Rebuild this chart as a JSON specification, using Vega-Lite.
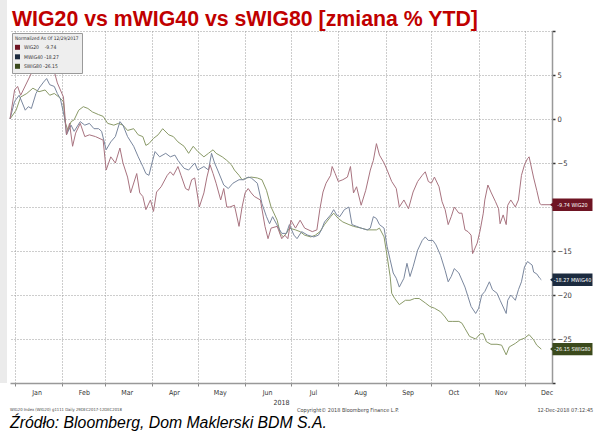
{
  "$schema": "https://vega.github.io/schema/vega-lite/v6.json",
  "width": 542,
  "height": 352,
  "autosize": {"type": "none"},
  "padding": {"left": 10, "top": 31, "right": 44, "bottom": 49},
  "background": "white",
  "view": {"stroke": null},
  "config": {"font": "Liberation Sans Narrow, DejaVu Sans Condensed, sans-serif"},
  "datasets": {
    "wig20": [
      {"d":"2017-12-29","v":0},{"d":"2018-01-01","v":3.3},{"d":"2018-01-03","v":3.7},{"d":"2018-01-05","v":2.7},{"d":"2018-01-12","v":5.2},{"d":"2018-01-14","v":5.4},{"d":"2018-01-18","v":5.9},{"d":"2018-01-20","v":6.5},{"d":"2018-01-22","v":6.3},{"d":"2018-01-24","v":5.8},{"d":"2018-01-27","v":5.4},{"d":"2018-01-29","v":4.1},
      {"d":"2018-02-02","v":2.5},{"d":"2018-02-04","v":-1.8},{"d":"2018-02-06","v":-0.5},{"d":"2018-02-08","v":-3.1},{"d":"2018-02-10","v":-1.6},{"d":"2018-02-13","v":-0.5},{"d":"2018-02-16","v":-2.0},{"d":"2018-02-19","v":-1.8},{"d":"2018-02-23","v":-2.0},{"d":"2018-02-28","v":-2.4},
      {"d":"2018-03-02","v":-5.8},{"d":"2018-03-05","v":-4.3},{"d":"2018-03-08","v":-5.0},{"d":"2018-03-11","v":-3.3},{"d":"2018-03-13","v":-5.0},{"d":"2018-03-16","v":-6.6},{"d":"2018-03-18","v":-8.4},{"d":"2018-03-22","v":-6.2},{"d":"2018-03-24","v":-8.4},{"d":"2018-03-26","v":-8.8},{"d":"2018-03-28","v":-10.3},{"d":"2018-03-31","v":-9.2},
      {"d":"2018-04-02","v":-10.5},{"d":"2018-04-04","v":-8.3},{"d":"2018-04-07","v":-7.7},{"d":"2018-04-11","v":-6.4},{"d":"2018-04-13","v":-6.0},{"d":"2018-04-15","v":-6.4},{"d":"2018-04-18","v":-5.4},{"d":"2018-04-20","v":-6.4},{"d":"2018-04-23","v":-7.9},{"d":"2018-04-25","v":-8.1},{"d":"2018-04-27","v":-6.9},{"d":"2018-04-29","v":-6.7},
      {"d":"2018-05-02","v":-10.0},{"d":"2018-05-05","v":-8.4},{"d":"2018-05-07","v":-6.6},{"d":"2018-05-09","v":-5.2},{"d":"2018-05-11","v":-6.2},{"d":"2018-05-13","v":-7.3},{"d":"2018-05-16","v":-9.2},{"d":"2018-05-18","v":-7.9},{"d":"2018-05-20","v":-10.0},{"d":"2018-05-22","v":-10.0},{"d":"2018-05-25","v":-9.8},{"d":"2018-05-28","v":-12.2},{"d":"2018-05-30","v":-10.0},
      {"d":"2018-06-01","v":-8.4},{"d":"2018-06-03","v":-7.9},{"d":"2018-06-05","v":-8.4},{"d":"2018-06-07","v":-8.8},{"d":"2018-06-11","v":-9.2},{"d":"2018-06-14","v":-12.2},{"d":"2018-06-16","v":-13.6},{"d":"2018-06-18","v":-12.4},{"d":"2018-06-22","v":-12.2},{"d":"2018-06-25","v":-13.6},{"d":"2018-06-27","v":-13.2},{"d":"2018-06-29","v":-13.6},
      {"d":"2018-07-01","v":-11.5},{"d":"2018-07-04","v":-12.4},{"d":"2018-07-07","v":-11.5},{"d":"2018-07-10","v":-12.4},{"d":"2018-07-15","v":-12.8},{"d":"2018-07-18","v":-12.6},{"d":"2018-07-20","v":-10.2},{"d":"2018-07-22","v":-8.3},{"d":"2018-07-24","v":-7.3},{"d":"2018-07-27","v":-6.4},{"d":"2018-07-28","v":-5.4},{"d":"2018-07-30","v":-6.2},
      {"d":"2018-08-01","v":-7.1},{"d":"2018-08-04","v":-6.9},{"d":"2018-08-07","v":-6.6},{"d":"2018-08-09","v":-5.4},{"d":"2018-08-11","v":-8.4},{"d":"2018-08-13","v":-7.7},{"d":"2018-08-16","v":-9.8},{"d":"2018-08-19","v":-8.1},{"d":"2018-08-22","v":-5.8},{"d":"2018-08-24","v":-4.7},{"d":"2018-08-26","v":-2.8},{"d":"2018-08-28","v":-4.1},{"d":"2018-08-31","v":-5.0},
      {"d":"2018-09-02","v":-5.8},{"d":"2018-09-05","v":-7.1},{"d":"2018-09-08","v":-7.9},{"d":"2018-09-10","v":-10.0},{"d":"2018-09-13","v":-9.2},{"d":"2018-09-16","v":-10.2},{"d":"2018-09-19","v":-8.3},{"d":"2018-09-22","v":-7.1},{"d":"2018-09-25","v":-6.4},{"d":"2018-09-27","v":-6.0},{"d":"2018-09-29","v":-7.1},
      {"d":"2018-10-01","v":-7.3},{"d":"2018-10-03","v":-6.6},{"d":"2018-10-06","v":-7.7},{"d":"2018-10-08","v":-9.4},{"d":"2018-10-10","v":-10.3},{"d":"2018-10-12","v":-12.0},{"d":"2018-10-14","v":-11.1},{"d":"2018-10-16","v":-10.0},{"d":"2018-10-19","v":-10.7},{"d":"2018-10-21","v":-10.7},{"d":"2018-10-23","v":-12.6},{"d":"2018-10-25","v":-12.8},{"d":"2018-10-27","v":-13.2},{"d":"2018-10-28","v":-15.3},{"d":"2018-10-31","v":-14.1},
      {"d":"2018-11-02","v":-12.6},{"d":"2018-11-04","v":-10.7},{"d":"2018-11-05","v":-9.2},{"d":"2018-11-07","v":-7.5},{"d":"2018-11-09","v":-8.3},{"d":"2018-11-12","v":-9.4},{"d":"2018-11-14","v":-10.2},{"d":"2018-11-15","v":-11.9},{"d":"2018-11-17","v":-10.9},{"d":"2018-11-19","v":-12.0},{"d":"2018-11-20","v":-9.8},{"d":"2018-11-22","v":-9.2},{"d":"2018-11-25","v":-10.0},{"d":"2018-11-27","v":-9.2},{"d":"2018-11-29","v":-6.4},
      {"d":"2018-12-01","v":-5.2},{"d":"2018-12-03","v":-4.5},{"d":"2018-12-04","v":-4.3},{"d":"2018-12-07","v":-6.7},{"d":"2018-12-09","v":-8.1},{"d":"2018-12-11","v":-9.6},{"d":"2018-12-12","v":-9.74},{"d":"2018-12-19","v":-9.74}
    ],
    "mwig40": [
      {"d":"2017-12-29","v":0},{"d":"2018-01-01","v":2.0},{"d":"2018-01-04","v":2.7},{"d":"2018-01-08","v":1.0},{"d":"2018-01-10","v":1.4},{"d":"2018-01-12","v":1.2},{"d":"2018-01-15","v":2.9},{"d":"2018-01-17","v":3.5},{"d":"2018-01-20","v":4.2},{"d":"2018-01-22","v":4.6},{"d":"2018-01-24","v":3.9},{"d":"2018-01-27","v":3.7},{"d":"2018-01-29","v":2.9},{"d":"2018-01-31","v":2.3},
      {"d":"2018-02-03","v":-0.1},{"d":"2018-02-04","v":-1.8},{"d":"2018-02-07","v":-0.7},{"d":"2018-02-09","v":-1.4},{"d":"2018-02-13","v":-0.3},{"d":"2018-02-16","v":-0.7},{"d":"2018-02-19","v":-0.5},{"d":"2018-02-22","v":-1.1},{"d":"2018-02-25","v":-1.1},{"d":"2018-02-27","v":-1.4},
      {"d":"2018-03-02","v":-3.5},{"d":"2018-03-05","v":-2.6},{"d":"2018-03-08","v":-2.0},{"d":"2018-03-11","v":-0.3},{"d":"2018-03-13","v":-0.7},{"d":"2018-03-16","v":-2.0},{"d":"2018-03-20","v":-3.1},{"d":"2018-03-23","v":-4.3},{"d":"2018-03-26","v":-5.4},{"d":"2018-03-28","v":-6.2},{"d":"2018-03-30","v":-6.4},
      {"d":"2018-04-01","v":-5.0},{"d":"2018-04-03","v":-3.7},{"d":"2018-04-06","v":-4.3},{"d":"2018-04-10","v":-3.9},{"d":"2018-04-13","v":-4.3},{"d":"2018-04-16","v":-4.1},{"d":"2018-04-18","v":-4.7},{"d":"2018-04-22","v":-5.6},{"d":"2018-04-25","v":-5.8},{"d":"2018-04-29","v":-5.0},
      {"d":"2018-05-01","v":-5.8},{"d":"2018-05-05","v":-5.4},{"d":"2018-05-08","v":-5.8},{"d":"2018-05-10","v":-3.9},{"d":"2018-05-12","v":-5.0},{"d":"2018-05-14","v":-5.8},{"d":"2018-05-18","v":-7.5},{"d":"2018-05-21","v":-7.9},{"d":"2018-05-24","v":-7.3},{"d":"2018-05-28","v":-6.9},{"d":"2018-05-31","v":-6.9},
      {"d":"2018-06-03","v":-6.6},{"d":"2018-06-05","v":-6.7},{"d":"2018-06-09","v":-7.3},{"d":"2018-06-12","v":-9.6},{"d":"2018-06-15","v":-11.1},{"d":"2018-06-17","v":-11.9},{"d":"2018-06-19","v":-11.1},{"d":"2018-06-23","v":-12.4},{"d":"2018-06-25","v":-13.0},{"d":"2018-06-28","v":-13.0},{"d":"2018-06-30","v":-12.0},
      {"d":"2018-07-03","v":-13.2},{"d":"2018-07-05","v":-13.6},{"d":"2018-07-08","v":-12.8},{"d":"2018-07-12","v":-13.2},{"d":"2018-07-16","v":-13.4},{"d":"2018-07-19","v":-13.2},{"d":"2018-07-21","v":-12.6},{"d":"2018-07-23","v":-11.7},{"d":"2018-07-27","v":-10.9},{"d":"2018-07-29","v":-10.3},{"d":"2018-07-31","v":-10.9},
      {"d":"2018-08-02","v":-11.1},{"d":"2018-08-05","v":-10.3},{"d":"2018-08-08","v":-10.0},{"d":"2018-08-10","v":-12.0},{"d":"2018-08-13","v":-12.2},{"d":"2018-08-16","v":-12.4},{"d":"2018-08-20","v":-12.6},{"d":"2018-08-22","v":-12.4},{"d":"2018-08-24","v":-11.1},{"d":"2018-08-26","v":-11.3},{"d":"2018-08-28","v":-12.0},{"d":"2018-08-31","v":-12.4},
      {"d":"2018-09-02","v":-14.5},{"d":"2018-09-04","v":-16.0},{"d":"2018-09-06","v":-17.5},{"d":"2018-09-08","v":-18.1},{"d":"2018-09-10","v":-19.1},{"d":"2018-09-13","v":-18.1},{"d":"2018-09-15","v":-16.4},{"d":"2018-09-17","v":-17.9},{"d":"2018-09-19","v":-16.8},{"d":"2018-09-22","v":-14.9},{"d":"2018-09-25","v":-13.8},{"d":"2018-09-27","v":-13.4},{"d":"2018-09-29","v":-13.8},
      {"d":"2018-10-02","v":-13.8},{"d":"2018-10-04","v":-14.3},{"d":"2018-10-07","v":-15.5},{"d":"2018-10-10","v":-17.2},{"d":"2018-10-12","v":-18.5},{"d":"2018-10-14","v":-17.9},{"d":"2018-10-16","v":-17.0},{"d":"2018-10-19","v":-17.5},{"d":"2018-10-21","v":-18.3},{"d":"2018-10-23","v":-19.1},{"d":"2018-10-25","v":-20.2},{"d":"2018-10-27","v":-21.3},{"d":"2018-10-30","v":-22.1},
      {"d":"2018-11-01","v":-21.5},{"d":"2018-11-03","v":-20.0},{"d":"2018-11-05","v":-19.6},{"d":"2018-11-08","v":-18.5},{"d":"2018-11-10","v":-19.4},{"d":"2018-11-13","v":-19.8},{"d":"2018-11-15","v":-20.6},{"d":"2018-11-19","v":-22.1},{"d":"2018-11-20","v":-20.6},{"d":"2018-11-22","v":-20.0},{"d":"2018-11-25","v":-20.6},{"d":"2018-11-27","v":-19.4},{"d":"2018-11-29","v":-18.5},
      {"d":"2018-12-01","v":-16.8},{"d":"2018-12-03","v":-16.2},{"d":"2018-12-06","v":-16.6},{"d":"2018-12-07","v":-17.4},{"d":"2018-12-09","v":-17.6},{"d":"2018-12-11","v":-18.1},{"d":"2018-12-12","v":-18.27}
    ],
    "swig80": [
      {"d":"2017-12-29","v":0},{"d":"2018-01-02","v":1.0},{"d":"2018-01-05","v":2.5},{"d":"2018-01-09","v":2.9},{"d":"2018-01-13","v":3.5},{"d":"2018-01-17","v":3.1},{"d":"2018-01-21","v":3.3},{"d":"2018-01-24","v":2.7},{"d":"2018-01-27","v":2.9},{"d":"2018-01-30","v":2.5},
      {"d":"2018-02-02","v":2.0},{"d":"2018-02-03","v":-0.3},{"d":"2018-02-05","v":-1.3},{"d":"2018-02-07","v":-0.3},{"d":"2018-02-09","v":-0.1},{"d":"2018-02-12","v":1.0},{"d":"2018-02-15","v":1.4},{"d":"2018-02-18","v":1.2},{"d":"2018-02-21","v":0.8},{"d":"2018-02-25","v":0.5},{"d":"2018-02-28","v":0.3},
      {"d":"2018-03-03","v":-0.5},{"d":"2018-03-07","v":-0.7},{"d":"2018-03-10","v":-0.5},{"d":"2018-03-13","v":-0.7},{"d":"2018-03-16","v":-1.3},{"d":"2018-03-20","v":-1.1},{"d":"2018-03-23","v":-1.8},{"d":"2018-03-26","v":-2.0},{"d":"2018-03-28","v":-3.0},{"d":"2018-03-30","v":-2.8},
      {"d":"2018-04-02","v":-2.2},{"d":"2018-04-05","v":-1.8},{"d":"2018-04-08","v":-1.1},{"d":"2018-04-12","v":-1.8},{"d":"2018-04-15","v":-2.0},{"d":"2018-04-18","v":-2.6},{"d":"2018-04-22","v":-3.1},{"d":"2018-04-25","v":-3.9},{"d":"2018-04-28","v":-3.1},
      {"d":"2018-05-01","v":-3.7},{"d":"2018-05-05","v":-4.3},{"d":"2018-05-08","v":-3.9},{"d":"2018-05-11","v":-3.5},{"d":"2018-05-13","v":-3.9},{"d":"2018-05-17","v":-4.3},{"d":"2018-05-20","v":-4.7},{"d":"2018-05-23","v":-5.2},{"d":"2018-05-25","v":-5.8},{"d":"2018-05-28","v":-6.4},{"d":"2018-05-30","v":-6.9},
      {"d":"2018-06-02","v":-6.7},{"d":"2018-06-05","v":-6.6},{"d":"2018-06-09","v":-6.7},{"d":"2018-06-12","v":-6.9},{"d":"2018-06-15","v":-8.1},{"d":"2018-06-18","v":-10.0},{"d":"2018-06-22","v":-11.5},{"d":"2018-06-24","v":-13.0},{"d":"2018-06-26","v":-13.4},{"d":"2018-06-28","v":-13.0},{"d":"2018-06-30","v":-12.4},
      {"d":"2018-07-04","v":-12.6},{"d":"2018-07-07","v":-12.8},{"d":"2018-07-10","v":-13.2},{"d":"2018-07-14","v":-13.4},{"d":"2018-07-17","v":-13.2},{"d":"2018-07-20","v":-12.8},{"d":"2018-07-23","v":-12.0},{"d":"2018-07-27","v":-11.1},{"d":"2018-07-29","v":-10.7},
      {"d":"2018-08-01","v":-11.3},{"d":"2018-08-04","v":-11.7},{"d":"2018-08-08","v":-12.0},{"d":"2018-08-11","v":-12.2},{"d":"2018-08-16","v":-12.4},{"d":"2018-08-20","v":-12.6},{"d":"2018-08-26","v":-12.6},{"d":"2018-08-28","v":-12.4},{"d":"2018-08-31","v":-13.4},
      {"d":"2018-09-02","v":-15.6},{"d":"2018-09-04","v":-17.9},{"d":"2018-09-05","v":-19.8},{"d":"2018-09-07","v":-20.4},{"d":"2018-09-10","v":-21.1},{"d":"2018-09-14","v":-20.6},{"d":"2018-09-17","v":-20.6},{"d":"2018-09-20","v":-20.4},{"d":"2018-09-23","v":-20.4},{"d":"2018-09-27","v":-20.9},{"d":"2018-09-30","v":-21.3},
      {"d":"2018-10-03","v":-21.5},{"d":"2018-10-07","v":-21.9},{"d":"2018-10-10","v":-22.5},{"d":"2018-10-12","v":-23.0},{"d":"2018-10-15","v":-23.0},{"d":"2018-10-19","v":-23.0},{"d":"2018-10-21","v":-23.2},{"d":"2018-10-23","v":-23.8},{"d":"2018-10-26","v":-24.7},{"d":"2018-10-30","v":-25.0},
      {"d":"2018-11-02","v":-24.4},{"d":"2018-11-04","v":-24.4},{"d":"2018-11-06","v":-25.3},{"d":"2018-11-09","v":-25.6},{"d":"2018-11-13","v":-25.6},{"d":"2018-11-16","v":-25.7},{"d":"2018-11-19","v":-26.8},{"d":"2018-11-21","v":-25.9},{"d":"2018-11-25","v":-25.5},{"d":"2018-11-28","v":-25.1},
      {"d":"2018-12-01","v":-24.9},{"d":"2018-12-04","v":-24.5},{"d":"2018-12-07","v":-25.1},{"d":"2018-12-09","v":-25.7},{"d":"2018-12-12","v":-26.15}
    ],
    "last": [
      {"s":"WIG20","v":-9.74,"lab":"-9.74 WIG20"},
      {"s":"MWIG40","v":-18.27,"lab":"-18.27 MWIG40"},
      {"s":"SWIG80","v":-26.15,"lab":"-26.15 SWIG80"}
    ]
  },
  "layer": [
    {
      "data": {"values": [{}]},
      "mark": {"type": "rect", "color": "#ebebeb", "clip": false},
      "encoding": {
        "x": {"datum": 1513939680000, "type": "temporal"},
        "x2": {"datum": 1514336256000},
        "y": {"datum": 13.6, "type": "quantitative"},
        "y2": {"datum": -30}
      }
    },
    {
      "data": {"name": "swig80"},
      "mark": {"type": "line", "color": "#8a9a68", "strokeWidth": 1},
      "encoding": {
        "x": {
          "field": "d", "type": "temporal",
          "scale": {"type": "utc", "domain": [1514505600000, 1545177600000]},
          "axis": {"title": "2018", "titleFontSize": 7, "titleFontWeight": "normal", "titleColor": "#333", "titlePadding": 3, "format": "%b", "tickCount": {"interval": "month", "step": 1}, "labelOffset": 22, "labelFontSize": 7, "labelColor": "#333", "labelPadding": 2, "tickSize": 3, "tickColor": "#888", "domainColor": "#999", "domainWidth": 1.5, "grid": true, "gridColor": "#9a9a9a", "gridDash": [1, 2], "labelOverlap": false, "labelFlush": false}
        },
        "y": {
          "field": "v", "type": "quantitative",
          "scale": {"domain": [-30, 10], "nice": false, "zero": false},
          "axis": {"orient": "right", "title": null, "values": [-30, -25, -20, -15, -10, -5, 0, 5, 10], "labelExpr": "datum.value == 10 || datum.value == -30 || datum.value == -10 ? '' : datum.label", "labelFontSize": 7.5, "labelColor": "#333", "labelAlign": "left", "labelPadding": 2, "tickSize": 3, "tickColor": "#333", "tickWidth": 1.5, "domainColor": "#999", "domainWidth": 1.5, "grid": true, "gridColor": "#9a9a9a", "gridDash": [1, 2]}
        }
      }
    },
    {
      "data": {"name": "mwig40"},
      "mark": {"type": "line", "color": "#7a879e", "strokeWidth": 1},
      "encoding": {"x": {"field": "d", "type": "temporal"}, "y": {"field": "v", "type": "quantitative"}}
    },
    {
      "data": {"name": "wig20"},
      "mark": {"type": "line", "color": "#a8737f", "strokeWidth": 1},
      "encoding": {"x": {"field": "d", "type": "temporal"}, "y": {"field": "v", "type": "quantitative"}}
    },
    {
      "data": {"name": "last"},
      "mark": {"type": "point", "filled": true, "opacity": 1, "size": 1600, "strokeWidth": 0, "clip": false, "shape": "M-1,-0.31H1V0.31H-1V0.1L-1.12,0L-1,-0.1Z"},
      "encoding": {
        "x": {"datum": 1546336800000, "type": "temporal"},
        "y": {"field": "v", "type": "quantitative"},
        "fill": {"field": "s", "type": "nominal", "scale": {"domain": ["WIG20", "MWIG40", "SWIG80"], "range": ["#6e1423", "#1c2b3f", "#3b4a1c"]},
          "legend": {"title": "Normalized As Of 12/29/2017", "orient": "top-left", "offset": 2, "padding": 3, "fillColor": "#eeeeee", "strokeColor": "#9a9a9a", "titleFontSize": 4.8, "titleFontWeight": "normal", "titleColor": "#333", "titlePadding": 4, "labelFontSize": 5, "labelColor": "#333", "symbolType": "square", "symbolSize": 25, "symbolStrokeWidth": 0, "rowPadding": 3.5,
            "labelExpr": "datum.value == 'WIG20' ? 'WIG20\u00a0\u00a0\u00a0\u00a0-9.74' : datum.value == 'MWIG40' ? 'MWIG40\u00a0-18.27' : 'SWIG80\u00a0-26.15'"}}
      }
    },
    {
      "data": {"name": "last"},
      "mark": {"type": "text", "color": "white", "font": "DejaVu Sans Condensed, sans-serif", "fontSize": 5.4, "align": "center", "baseline": "middle", "clip": false},
      "encoding": {
        "x": {"datum": 1546336800000, "type": "temporal"},
        "y": {"field": "v", "type": "quantitative"},
        "text": {"field": "lab"}
      }
    },
    {
      "data": {"values": [{}]},
      "mark": {"type": "text", "text": "WIG20 vs mWIG40 vs sWIG80 [zmiana % YTD]", "align": "left", "baseline": "alphabetic", "dx": 2, "font": "Liberation Sans, Arial, sans-serif", "fontSize": 21.3, "fontWeight": "bold", "color": "#c00000", "clip": false},
      "encoding": {"x": {"datum": 1514505600000, "type": "temporal"}, "y": {"datum": 10.57, "type": "quantitative"}}
    },
    {
      "data": {"values": [{}]},
      "mark": {"type": "text", "text": "WIG20 Index (WIG20) g1111 Daily 29DEC2017-12DEC2018", "align": "left", "baseline": "middle", "fontSize": 4.2, "color": "#444", "clip": false},
      "encoding": {"x": {"datum": 1514505600000, "type": "temporal"}, "y": {"datum": -33.1, "type": "quantitative"}}
    },
    {
      "data": {"values": [{}]},
      "mark": {"type": "text", "text": "Copyright© 2018 Bloomberg Finance L.P.", "align": "left", "baseline": "middle", "fontSize": 5.5, "color": "#444", "clip": false},
      "encoding": {"x": {"datum": 1530748800000, "type": "temporal"}, "y": {"datum": -33.1, "type": "quantitative"}}
    },
    {
      "data": {"values": [{}]},
      "mark": {"type": "text", "text": "12-Dec-2018 07:12:45", "align": "right", "baseline": "middle", "fontSize": 5.5, "color": "#444", "clip": false},
      "encoding": {"x": {"datum": 1547510400000, "type": "temporal"}, "y": {"datum": -33.1, "type": "quantitative"}}
    },
    {
      "data": {"values": [{}]},
      "mark": {"type": "text", "text": "Źródło: Bloomberg, Dom Maklerski BDM S.A.", "align": "left", "baseline": "alphabetic", "font": "Liberation Sans, Arial, sans-serif", "fontSize": 15.8, "fontStyle": "italic", "color": "#000", "clip": false},
      "encoding": {"x": {"datum": 1514505600000, "type": "temporal"}, "y": {"datum": -35.1, "type": "quantitative"}}
    }
  ]
}
